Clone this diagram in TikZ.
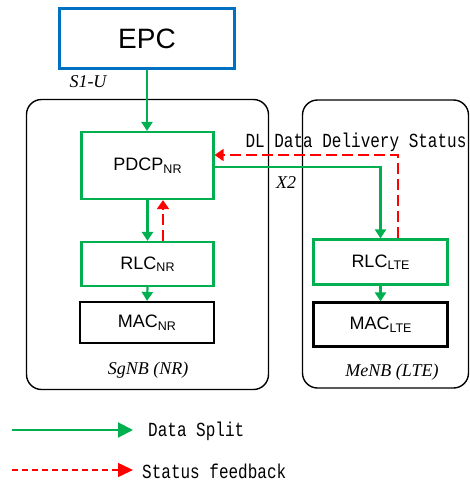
\documentclass[tikz,border=0pt]{standalone}
\usepackage{fontspec}
\usetikzlibrary{arrows.meta,calc}
\newfontfamily\arialfont{Liberation Sans}
\newfontfamily\timesfont{Liberation Serif}
\newfontfamily\labelmono[FakeStretch=0.8]{Liberation Mono}
\definecolor{dsgreen}{RGB}{0,176,80}
\definecolor{epcblue}{RGB}{0,112,192}
% layer name with a lowered, smaller suffix
\newcommand{\layname}[2]{#1{\fontsize{12.5}{12.5}\selectfont\raisebox{-2.5pt}{#2}}}

\begin{document}
\begin{tikzpicture}[x=1pt,y=-1pt,
  enb/.style={draw=black, line width=1.4pt, rounded corners=15pt},
  layerbox/.style={draw=dsgreen, line width=2.2pt, inner sep=0pt,
    font=\arialfont\fontsize{18}{18}\selectfont},
  macbox/.style={draw=black, line width=2.2pt, inner sep=0pt,
    font=\arialfont\fontsize{18}{18}\selectfont},
  italiclabel/.style={font=\timesfont\itshape\fontsize{18}{18}\selectfont, inner sep=0pt},
  monolabel/.style={font=\labelmono\fontsize{20}{20}\selectfont, inner sep=0pt},
  dataflow/.style={draw=dsgreen, line width=2.2pt,
    -{Triangle[length=9pt,width=11pt]}},
  feedback/.style={draw=red, line width=1.8pt, dash pattern=on 11pt off 5pt,
    -{Triangle[length=9pt,width=12pt]}},
]
\useasboundingbox (0,0) rectangle (470,482);

% base-station enclosures
\draw[enb] (26.5,99.5) rectangle (268.5,389.5);
\draw[enb] (302.5,100) rectangle (468.5,388);

% core network
\node[draw=epcblue, line width=2.2pt, minimum width=175pt, minimum height=60pt,
  inner sep=0pt, font=\arialfont\fontsize{28}{28}\selectfont] (epc) at (147,38.5) {EPC};

% SgNB stack
\node[layerbox, minimum width=132pt, minimum height=67pt] (pdcp) at (147.5,165.5) {\layname{PDCP}{NR}};
\node[layerbox, minimum width=132pt, minimum height=44pt] (rlcnr) at (147.5,264) {\layname{RLC}{NR}};
\node[macbox, minimum width=134pt, minimum height=41pt] (macnr) at (147,322.5) {\layname{MAC}{NR}};

% MeNB stack
\node[layerbox, minimum width=134pt, minimum height=45pt] (rlclte) at (380.5,262) {\layname{RLC}{LTE}};
\node[macbox, minimum width=134pt, minimum height=44pt] (maclte) at (380.5,324.5) {\layname{MAC}{LTE}};

% labels
\node[italiclabel] (s1u) at (88,82) {S1-U};
\node[italiclabel] (x2) at (286,183) {X2};
\node[italiclabel] (sglab) at (148,370) {SgNB (NR)};
\node[italiclabel] (melab) at (392,372) {MeNB (LTE)};
\node[monolabel] (dl) at (356,142) {DL Data Delivery Status};

% data path
\draw[dataflow] (epc.south) -- (epc.south |- pdcp.north);
\draw[dataflow] (pdcp.south) -- (rlcnr.north);
\draw[dataflow] (rlcnr.south) -- (macnr.north);
\draw[dataflow] (rlclte.south) -- (maclte.north);
\draw[dataflow] ([yshift=-1.5pt]pdcp.east) -| (rlclte.north);

% status feedback
\coordinate (fbturn) at (398,155);
\draw[feedback] (fbturn |- rlclte.north) -- (fbturn) -- (fbturn -| pdcp.east);
\draw[feedback] ([xshift=15.5pt]rlcnr.north) -- ([xshift=15.5pt]pdcp.south);

% legend
\coordinate (lgA) at (12,430);
\coordinate (lgB) at (133,430);
\coordinate (lfA) at (12,470);
\coordinate (lfB) at (133,470);
\draw[draw=dsgreen, line width=2pt, -{Triangle[length=15pt,width=15pt]}] (lgA) -- (lgB);
\draw[draw=red, line width=1.5pt, dash pattern=on 6pt off 4pt, -{Triangle[length=15pt,width=14pt]}] (lfA) -- (lfB);
\node[monolabel, anchor=west] (lgtext) at (148,431) {Data Split};
\node[monolabel, anchor=west] (lftext) at (142,471) {Status feedback};
\end{tikzpicture}
\end{document}
